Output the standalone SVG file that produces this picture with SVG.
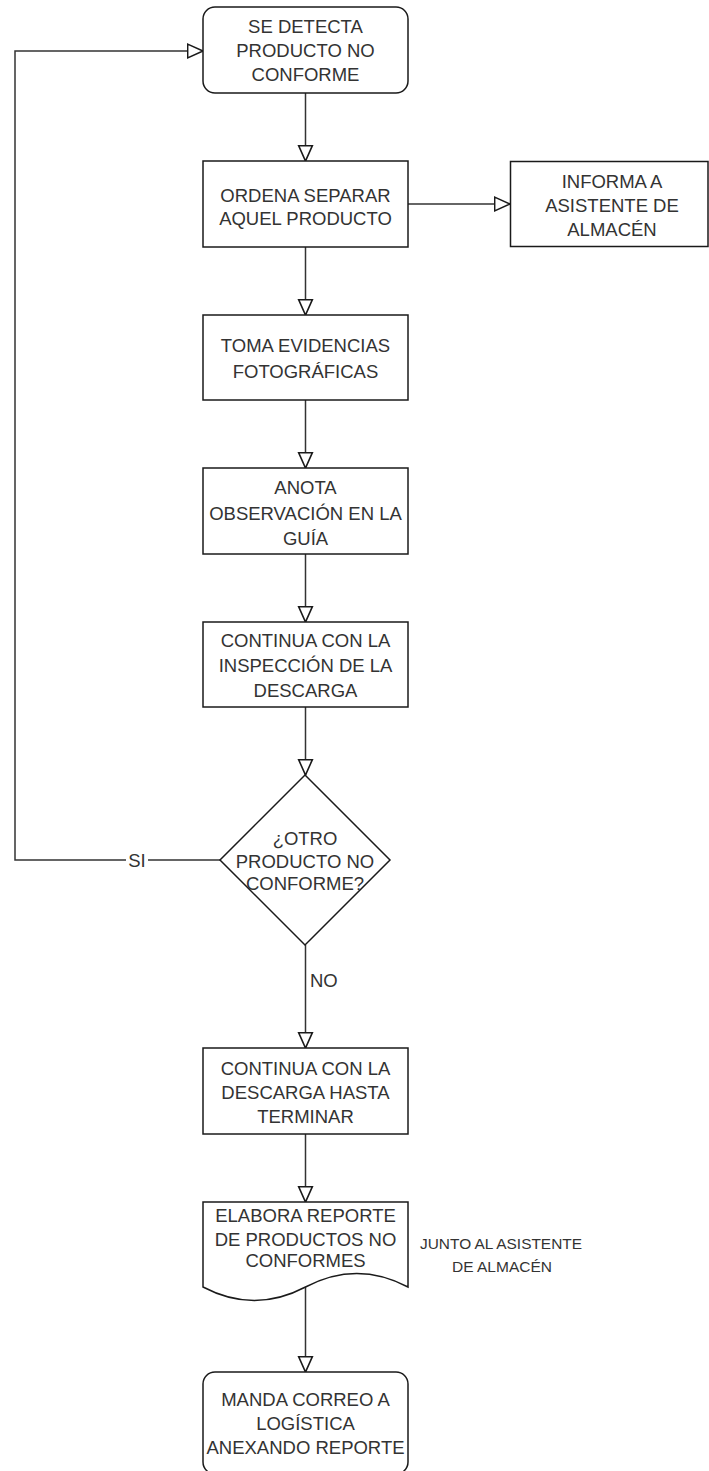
<svg xmlns="http://www.w3.org/2000/svg" width="709" height="1471" viewBox="0 0 709 1471">
  <style>
    .box { fill: #ffffff; stroke: #1a1a1a; stroke-width: 1.5; }
    .lbl { font-family: "Liberation Sans", Arial, sans-serif; font-size: 18.5px; fill: #333333; text-anchor: middle; }
    .edge { fill: none; stroke: #333333; stroke-width: 1.5; marker-end: url(#arr); }
    .note { font-family: "Liberation Sans", Arial, sans-serif; font-size: 15px; fill: #333333; text-anchor: middle; }
  </style>
  <defs>
    <marker id="arr" markerUnits="userSpaceOnUse" markerWidth="18" markerHeight="18" viewBox="-1 -1 17 16" refX="14.5" refY="6.5" orient="auto">
      <path d="M0,0 L14.5,6.5 L0,13 Z" fill="#ffffff" stroke="#1a1a1a" stroke-width="1.5"/>
    </marker>
  </defs>
  <rect width="709" height="1471" fill="#ffffff"/>

  <g id="connectors">
    <path class="edge" d="M305.5,93 V161"/>
    <path class="edge" d="M408,204 H510"/>
    <path class="edge" d="M305.5,247 V315"/>
    <path class="edge" d="M305.5,400 V468"/>
    <path class="edge" d="M305.5,554 V622"/>
    <path class="edge" d="M305.5,707 V775"/>
    <path class="edge" d="M220,860 H15 V51 H203"/>
    <path class="edge" d="M305.5,945 V1048"/>
    <path class="edge" d="M305.5,1134 V1202"/>
    <path class="edge" d="M305.5,1287 V1372"/>
    <rect x="126" y="850" width="22" height="20" fill="#ffffff"/>
    <text class="lbl" x="137" y="866.5">SI</text>
    <text class="lbl" x="310" y="986.5" style="text-anchor:start">NO</text>
  </g>

  <g id="n1">
    <rect class="box" x="203" y="7" width="205" height="86" rx="12"/>
    <text class="lbl" x="305.5" y="33">SE DETECTA</text>
    <text class="lbl" x="305.5" y="57">PRODUCTO NO</text>
    <text class="lbl" x="305.5" y="81">CONFORME</text>
  </g>

  <g id="n2">
    <rect class="box" x="203" y="161" width="205" height="86"/>
    <text class="lbl" x="305.5" y="201.5">ORDENA SEPARAR</text>
    <text class="lbl" x="305.5" y="225">AQUEL PRODUCTO</text>
  </g>

  <g id="n_informa">
    <rect class="box" x="510.5" y="161.5" width="197.5" height="85"/>
    <text class="lbl" x="612" y="187.5">INFORMA A</text>
    <text class="lbl" x="612" y="211.5">ASISTENTE DE</text>
    <text class="lbl" x="612" y="235.5">ALMACÉN</text>
  </g>

  <g id="n3">
    <rect class="box" x="203" y="315" width="205" height="85"/>
    <text class="lbl" x="305.5" y="352">TOMA EVIDENCIAS</text>
    <text class="lbl" x="305.5" y="377.5">FOTOGRÁFICAS</text>
  </g>

  <g id="n4">
    <rect class="box" x="203" y="468" width="205" height="86"/>
    <text class="lbl" x="305.5" y="494">ANOTA</text>
    <text class="lbl" x="305.5" y="519.5">OBSERVACIÓN EN LA</text>
    <text class="lbl" x="305.5" y="544.5">GUÍA</text>
  </g>

  <g id="n5">
    <rect class="box" x="203" y="622" width="205" height="85"/>
    <text class="lbl" x="305.5" y="647">CONTINUA CON LA</text>
    <text class="lbl" x="305.5" y="672">INSPECCIÓN DE LA</text>
    <text class="lbl" x="305.5" y="696.5">DESCARGA</text>
  </g>

  <g id="decision">
    <path class="box" d="M305,775 L390,860 L305,945 L220,860 Z"/>
    <text class="lbl" x="305" y="845">¿OTRO</text>
    <text class="lbl" x="305" y="867.5">PRODUCTO NO</text>
    <text class="lbl" x="305" y="890">CONFORME?</text>
  </g>

  <g id="n6">
    <rect class="box" x="203" y="1048" width="205" height="86"/>
    <text class="lbl" x="305.5" y="1075">CONTINUA CON LA</text>
    <text class="lbl" x="305.5" y="1099">DESCARGA HASTA</text>
    <text class="lbl" x="305.5" y="1123">TERMINAR</text>
  </g>

  <g id="doc">
    <path class="box" d="M203,1202 H408 V1287 Q356.75,1260 305.5,1287 Q254.25,1314 203,1287 Z"/>
    <text class="lbl" x="305.5" y="1222">ELABORA REPORTE</text>
    <text class="lbl" x="305.5" y="1245.5">DE PRODUCTOS NO</text>
    <text class="lbl" x="305.5" y="1267">CONFORMES</text>
  </g>

  <g id="note">
    <text class="note" x="501" y="1248.5" textLength="162" lengthAdjust="spacingAndGlyphs">JUNTO AL ASISTENTE</text>
    <text class="note" x="502" y="1271.5" textLength="100" lengthAdjust="spacingAndGlyphs">DE ALMACÉN</text>
  </g>

  <g id="n7">
    <rect class="box" x="203" y="1372" width="205" height="102" rx="12"/>
    <text class="lbl" x="305.5" y="1405.5">MANDA CORREO A</text>
    <text class="lbl" x="305.5" y="1430">LOGÍSTICA</text>
    <text class="lbl" x="305.5" y="1453.5">ANEXANDO REPORTE</text>
  </g>
</svg>
